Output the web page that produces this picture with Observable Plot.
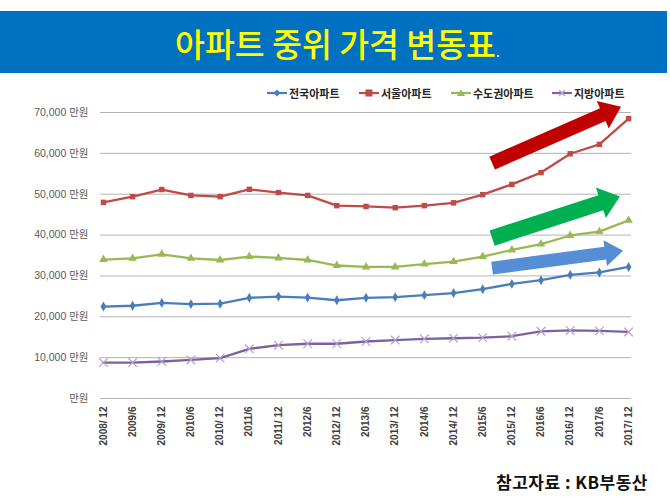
<!DOCTYPE html>
<html>
<head>
<meta charset="utf-8">
<script src="https://cdn.jsdelivr.net/npm/d3@7"></script>
<script src="https://cdn.jsdelivr.net/npm/@observablehq/plot@0.6"></script>
<style>
  html, body { margin: 0; padding: 0; background: #fff; }
  body { width: 670px; height: 502px; position: relative; overflow: hidden; font-family: "Noto Sans CJK KR", "Liberation Sans", sans-serif; }
  #title { position: absolute; left: 0; top: 11px; width: 667px; height: 62px; background: #0070C0; }
  #title span.t { position: absolute; left: 175px; top: 12px; font-size: 32.5px; line-height: 40px; color: #FFFF00; font-weight: 500; white-space: nowrap; }
  #title span.t b { color: #fff; font-size: 14px; font-weight: 400; }
  .leg { position: absolute; top: 85px; height: 16px; display: flex; align-items: center; font-size: 11px; font-weight: 700; color: #262626; white-space: nowrap; }
  .leg svg { margin-right: 2px; }
  #chart { position: absolute; left: 0; top: 100px; }
  #caption { position: absolute; left: 496px; top: 469px; font-size: 17px; letter-spacing: 0.5px; font-weight: 700; color: #111; white-space: nowrap; }
</style>
</head>
<body>
<div id="title"><span class="t">아파트 중위 가격 변동표<b>.</b></span></div>
<div id="legend"></div>
<div id="chart"></div>
<div id="caption">참고자료 : KB부동산</div>
<script>
// ---- data ----
const xLabels = ["2008/ 12","2009/6","2009/ 12","2010/6","2010/ 12","2011/6","2011/ 12","2012/6","2012/ 12","2013/6","2013/ 12","2014/6","2014/ 12","2015/6","2015/ 12","2016/6","2016/ 12","2017/6","2017/ 12"];
const seriesNames = ["전국아파트", "서울아파트", "수도권아파트", "지방아파트"];
const national = [22500,22700,23400,23100,23200,24650,24950,24700,24050,24650,24800,25300,25800,26750,28050,28950,30250,30850,32200];
const seoul    = [48000,49400,51150,49700,49400,51200,50400,49700,47200,47000,46700,47200,47900,49900,52400,55300,59900,62200,68500];
const capital  = [34000,34300,35300,34300,33900,34750,34400,33900,32550,32200,32200,32900,33500,34750,36350,37800,39900,40850,43600];
const local    = [8800,8800,9050,9450,9900,12150,13050,13400,13400,13950,14300,14600,14750,14900,15250,16450,16650,16550,16300];
const yTicks = [0,10000,20000,30000,40000,50000,60000,70000];
// trend arrows (tail x index, tail value, tip x index, tip value)
const arrowNames = ["서울", "수도권", "전국"];
const arrowX0 = [13.34, 13.34, 13.34];
const arrowY0 = [57500, 39150, 31800];
const arrowX1 = [17.76, 17.72, 17.83];
const arrowY1 = [71300, 49300, 36050];

// ---- styles ----
const colors = {"전국아파트": "#4A7EBB", "서울아파트": "#BE4B48", "수도권아파트": "#98B954", "지방아파트": "#7D60A0"};
const symbols = {"전국아파트": "diamond", "서울아파트": "square", "수도권아파트": "triangle", "지방아파트": "times"};
const arrowStyle = [
  {fill: "#C00000", w: 7, h: 15, L: 20},
  {fill: "#00B050", w: 8, h: 16, L: 20},
  {fill: "#558ED5", w: 6.5, h: 13, L: 18}
];

const valuesBySeries = [national, seoul, capital, local];
const rows = [];
seriesNames.forEach((s, k) => valuesBySeries[k].forEach((v, i) => rows.push({series: s, i, v})));

// legend
const legendX = [267, 359, 451, 552];
const legend = document.getElementById("legend");
seriesNames.forEach((s, k) => {
  const d = document.createElement("div");
  d.className = "leg";
  d.style.left = legendX[k] + "px";
  const c = colors[s];
  let m = "";
  if (symbols[s] === "diamond") m = `<path d="M10,4.5 L13.5,8 L10,11.5 L6.5,8Z" fill="${c}"/>`;
  if (symbols[s] === "square") m = `<rect x="6.5" y="4.5" width="7" height="7" fill="${c}"/>`;
  if (symbols[s] === "triangle") m = `<path d="M10,4.5 L14,11 L6,11Z" fill="${c}"/>`;
  if (symbols[s] === "times") m = `<path d="M7,5 L13,11 M13,5 L7,11" stroke="#B3A2C7" stroke-width="1.3"/>`;
  d.innerHTML = `<svg width="20" height="16"><line x1="0" x2="20" y1="8" y2="8" stroke="${c}" stroke-width="2.2"/>${m}</svg><span>${s}</span>`;
  legend.appendChild(d);
});

const chart = Plot.plot({
  width: 670,
  height: 350,
  marginLeft: 100,
  marginRight: 39,
  marginTop: 12,
  marginBottom: 52,
  style: {fontFamily: "'Liberation Sans', 'Noto Sans CJK KR', sans-serif", fontSize: "10.5px", color: "#595959", background: "transparent"},
  x: {type: "linear", domain: [-0.1, 18.1]},
  y: {domain: [0, 70000]},
  marks: [
    Plot.ruleY(yTicks, {stroke: "#B3B3B3", strokeWidth: 1}),
    Plot.axisY({ticks: yTicks, tickSize: 0, tickPadding: 12, fill: "#595959", fontSize: 10.5,
      tickFormat: d => d === 0 ? "만원" : d3.format(",")(d) + " 만원", label: null}),
    Plot.axisX({ticks: d3.range(xLabels.length), tickSize: 0, tickPadding: 8, tickRotate: -90,
      tickFormat: i => xLabels[i], fill: "#404040", fontWeight: "bold", fontSize: 10, label: null}),
    Plot.line(rows, {x: "i", y: "v", z: "series", stroke: d => colors[d.series], strokeWidth: 2.3, curve: "linear"}),
    Plot.dot(rows.filter(d => symbols[d.series] !== "times"), {x: "i", y: "v", symbol: d => symbols[d.series],
      fill: d => colors[d.series], r: d => symbols[d.series] === "triangle" ? 4.3 : symbols[d.series] === "square" ? 4 : 3.8, stroke: "none"}),
    Plot.dot(rows.filter(d => symbols[d.series] === "times"), {x: "i", y: "v", symbol: "times",
      stroke: "#B3A2C7", fill: "none", r: 4, strokeWidth: 1.2})
  ]
});
chart.querySelectorAll("g[aria-label='x-axis tick label'] text, g[aria-label='x-axis tick label']").forEach(e => e.setAttribute("font-weight", "bold"));
document.getElementById("chart").appendChild(chart);

// block arrows, positioned through the plot's own scales
const sx = chart.scale("x"), sy = chart.scale("y");
const svg = d3.select(chart);
arrowNames.forEach((n, k) => {
  const x0 = sx.apply(arrowX0[k]), y0 = sy.apply(arrowY0[k]);
  const x1 = sx.apply(arrowX1[k]), y1 = sy.apply(arrowY1[k]);
  const {fill, w, h, L} = arrowStyle[k];
  const len = Math.hypot(x1 - x0, y1 - y0);
  const ux = (x1 - x0) / len, uy = (y1 - y0) / len;
  const nx = -uy, ny = ux;
  const bx = x1 - ux * L, by = y1 - uy * L;
  const pts = [
    [x0 + nx * w, y0 + ny * w],
    [bx + nx * w, by + ny * w],
    [bx + nx * h, by + ny * h],
    [x1, y1],
    [bx - nx * h, by - ny * h],
    [bx - nx * w, by - ny * w],
    [x0 - nx * w, y0 - ny * w]
  ];
  svg.append("polygon").attr("points", pts.map(p => p.join(",")).join(" ")).attr("fill", fill);
});
</script>
</body>
</html>
